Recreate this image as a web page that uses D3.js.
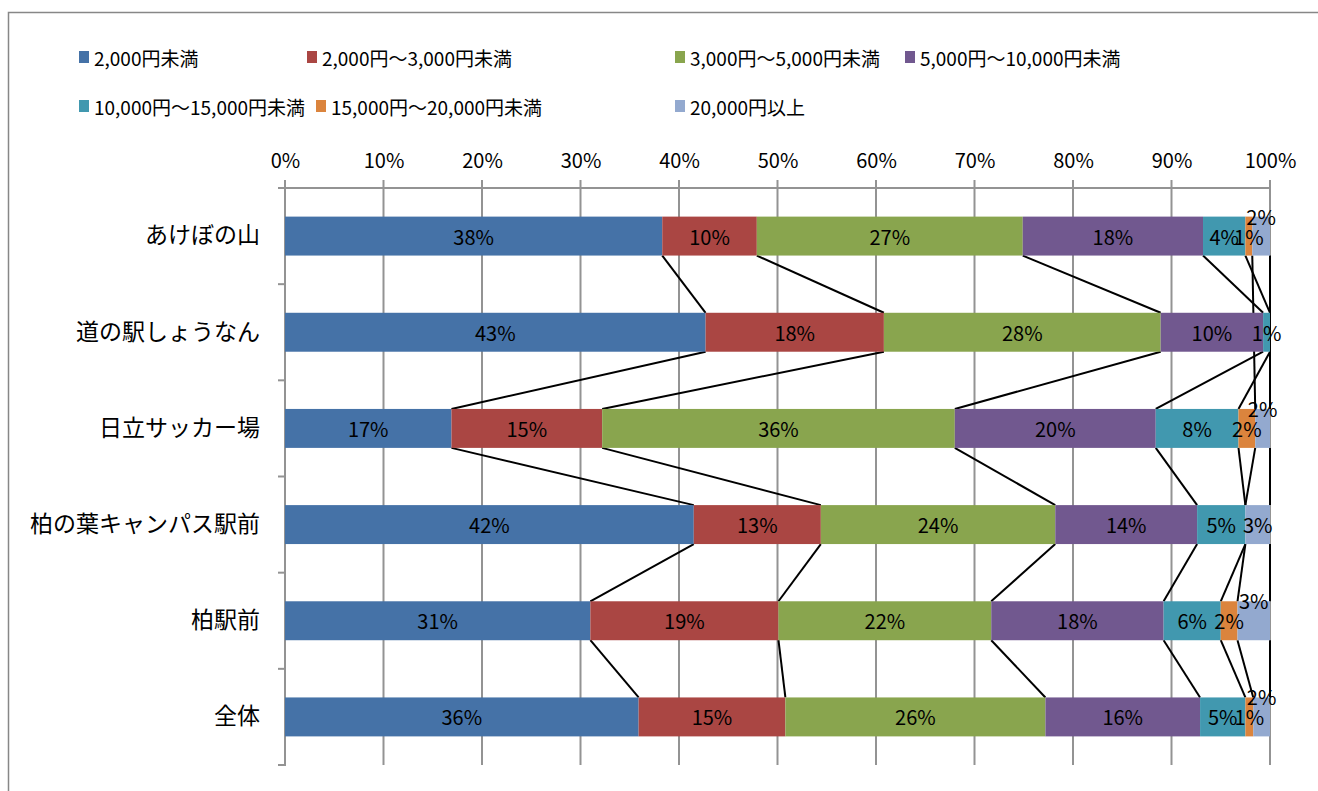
<!DOCTYPE html>
<html><head><meta charset="utf-8">
<script src="https://cdnjs.cloudflare.com/ajax/libs/d3/7.8.5/d3.min.js"></script>
<style>
html,body{margin:0;padding:0;background:#fff;}
svg{display:block;font-family:"Noto Sans CJK JP","Noto Sans",sans-serif;}
</style></head>
<body>
<svg id="chart" width="1318" height="791"></svg>
<script>
const categories = ["あけぼの山","道の駅しょうなん","日立サッカー場","柏の葉キャンパス駅前","柏駅前","全体"];
const seriesNames = ["2,000円未満","2,000円～3,000円未満","3,000円～5,000円未満","5,000円～10,000円未満","10,000円～15,000円未満","15,000円～20,000円未満","20,000円以上"];
const seriesColors = ["#4572A7","#AA4643","#89A54E","#71588F","#4198AF","#DB843D","#93A9CF"];
// values in %, null = blank
const s1 = [38.3, 42.7, 16.9, 41.5, 31.0, 35.9];
const s2 = [9.6, 18.1, 15.3, 12.9, 19.1, 14.9];
const s3 = [27.0, 28.1, 35.8, 23.8, 21.6, 26.4];
const s4 = [18.3, 10.4, 20.4, 14.4, 17.5, 15.7];
const s5 = [4.3, 0.7, 8.4, 4.9, 5.8, 4.6];
const s6 = [0.7, null, 1.7, 0, 1.7, 0.8];
const s7 = [1.8, null, 1.5, 2.5, 3.3, 1.7];
const seriesValues = [s1,s2,s3,s4,s5,s6,s7];
const tickValues = [0,10,20,30,40,50,60,70,80,90,100];

const svg = d3.select("#chart");
const W = 1318, H = 791;

// frame
svg.append("rect").attr("x",8.5).attr("y",12.5).attr("width",W+20).attr("height",H+20)
  .attr("fill","none").attr("stroke","#878787").attr("stroke-width",1.5);

const x = d3.scaleLinear().domain([0,100]).range([285,1270]);
const y = d3.scaleBand().domain(categories).range([188,765]).paddingInner(0.595).paddingOuter(0.2975);
const bw = y.bandwidth();

// gridlines
svg.append("g").selectAll("line").data(tickValues).join("line")
  .attr("x1",d=>x(d)).attr("x2",d=>x(d)).attr("y1",180).attr("y2",765)
  .attr("stroke","#939393").attr("stroke-width",2);

// top axis
const xAxis = d3.axisTop(x).tickValues(tickValues).tickFormat(d=>d+"%").tickSize(0).tickPadding(0);
const gx = svg.append("g").attr("transform","translate(0,188)").call(xAxis);
gx.select(".domain").remove();
gx.selectAll("text").attr("y",-20).attr("font-size",20).attr("fill","#000").attr("font-family",'"Noto Sans CJK JP",sans-serif');
svg.append("line").attr("x1",278).attr("x2",1271).attr("y1",188).attr("y2",188).attr("stroke","#939393").attr("stroke-width",2);

// left axis
const yAxis = d3.axisLeft(y).tickSize(0).tickPadding(25);
const gy = svg.append("g").attr("transform","translate(285,0)").call(yAxis);
gy.select(".domain").remove();
gy.selectAll("text").attr("font-size",23).attr("fill","#000").attr("font-family",'"Noto Sans CJK JP",sans-serif');
svg.append("line").attr("x1",285).attr("x2",285).attr("y1",187).attr("y2",766).attr("stroke","#939393").attr("stroke-width",2);
const bounds = y.domain().map(c=>y(c)-y.step()*y.paddingInner()/2);
bounds.push(765);
svg.append("g").selectAll("line").data(bounds).join("line")
  .attr("x1",278).attr("x2",285).attr("y1",d=>d).attr("y2",d=>d)
  .attr("stroke","#939393").attr("stroke-width",2);

// stacked data
const rows = categories.map((c,i)=>{
  let acc = 0;
  const segs = seriesValues.map((arr,s)=>{
    const v = arr[i];
    const start = acc;
    if (v!=null) acc += v;
    return {cat:c, s, v, start, end:acc};
  });
  return segs;
});

// series lines (behind bars)
const lineG = svg.append("g");
seriesValues.forEach((arr,s)=>{
  const idx = categories.map((c,i)=>i).filter(i=>arr[i]!=null);
  for (let k=0;k<idx.length-1;k++){
    const a = rows[idx[k]][s], b = rows[idx[k+1]][s];
    lineG.append("line")
      .attr("x1",x(a.end)).attr("y1",y(a.cat)+bw)
      .attr("x2",x(b.end)).attr("y2",y(b.cat))
      .attr("stroke","#000").attr("stroke-width",2);
  }
});

// bars
const barG = svg.append("g");
rows.forEach(segs=>{
  barG.selectAll(null).data(segs.filter(d=>d.v!=null && d.v>0)).join("rect")
    .attr("x",d=>x(d.start)).attr("y",d=>y(d.cat))
    .attr("width",d=>x(d.end)-x(d.start)).attr("height",bw)
    .attr("fill",d=>seriesColors[d.s]);
});

// labels
const labG = svg.append("g");
rows.forEach(segs=>{
  labG.selectAll(null).data(segs.filter(d=>d.v!=null && d.v>0)).join("text")
    .attr("x",d=>x((d.start+d.end)/2))
    .attr("y",d=>{
      let cy = y(d.cat)+bw/2;
      if (d.s===6 && segs[5].v>0) cy -= 20;
      return cy;
    })
    .attr("text-anchor","middle").attr("dominant-baseline","central")
    .attr("font-size",20).attr("fill","#000")
    .text(d=>Math.round(d.v)+"%");
});

// legend
const legendPos = [[79,57],[307,57],[675,57],[905,57],[79,106],[316,106],[675,106]];
const lg = svg.append("g");
seriesNames.forEach((n,i)=>{
  const [lx,ly] = legendPos[i];
  lg.append("rect").attr("x",lx).attr("y",ly-6).attr("width",10).attr("height",12).attr("fill",seriesColors[i]);
  lg.append("text").attr("x",lx+15).attr("y",ly).attr("dominant-baseline","central")
    .attr("font-size",19).attr("fill","#000").text(n);
});
</script>
</body></html>
